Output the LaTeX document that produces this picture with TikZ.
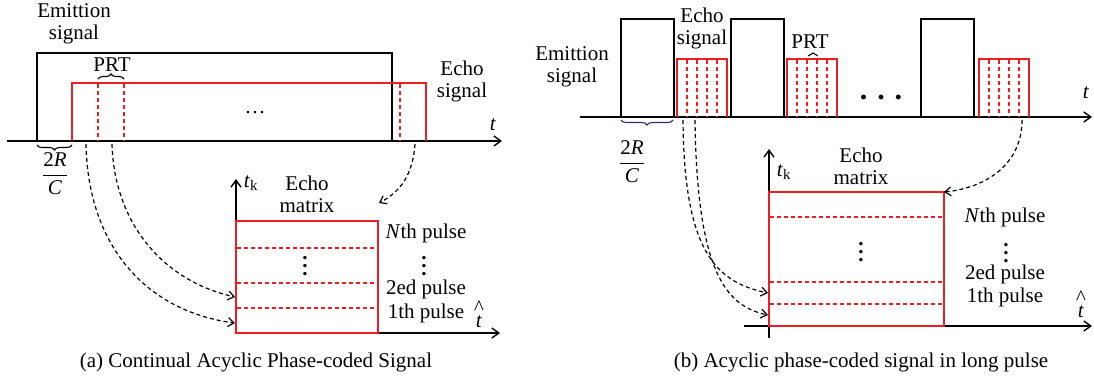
\documentclass[tikz,border=0pt]{standalone}
\usepackage{fontspec}
\setmainfont{Liberation Serif}
\usetikzlibrary{arrows.meta,decorations.pathreplacing}
\definecolor{ered}{RGB}{235,30,35}
\definecolor{bnavy}{RGB}{40,50,110}
\newcommand\myvdots{\vbox{\baselineskip=8pt\lineskiplimit=-10pt\hbox{\textbf{.}}\hbox{\textbf{.}}\hbox{\textbf{.}}}}
\begin{document}
\begin{tikzpicture}[x=1pt,y=-1pt,
  font=\fontsize{21}{22}\selectfont,
  every node/.style={inner sep=0pt,align=center},
  axis/.style={line width=1.4pt,-{Straight Barb[length=7pt,width=10pt,line width=1.4pt]}},
  blk/.style={line width=1.4pt},
  blkthin/.style={line width=1.1pt},
  redbox/.style={draw=ered,line width=2pt},
  redthin/.style={draw=ered,line width=1.4pt},
  reddash/.style={draw=ered,line width=1.5pt,dash pattern=on 4pt off 3pt},
  link/.style={line width=1.2pt,dash pattern=on 4pt off 3pt,-{Straight Barb[length=6pt,width=9pt,line width=1.2pt]}},
  brc/.style={decorate,decoration={brace,amplitude=5pt},line width=1.1pt}]
\path[use as bounding box] (0,0) rectangle (1094,381);

% ================= panel (a) =================
\draw[axis] (7,141) -- (502,141);
\node (ta) at (493,125) {\textit{t}};
\draw[blk] (37,141) -- (37,53) -- (392,53) -- (392,141);
\draw[redbox] (72,141) -- (72,83) -- (426,83) -- (426,141);
\draw[reddash] (98,84) -- (98,141);
\draw[reddash] (124,84) -- (124,141);
\draw[reddash] (400,84) -- (400,141);
\draw[brc] (98,79) -- (124,79);
\node (prta) at (112,65) {PRT};
\node (dotsa) at (255,113) {…};
\node (emita) at (74,24) {Emittion\\signal};
\node (echoa) at (462,81) {Echo\\signal};
\draw[brc] (72,145) -- (37,145);
\node (rca) at (55,174) {$\displaystyle\frac{\mbox{2\textit{R}}}{\mbox{\textit{C}}}$};

% matrix (a)
\draw[axis] (236,333) -- (236,179);
\draw[axis] (236,333) -- (500,333);
\draw[redbox] (236,221) rectangle (378,333);
\draw[reddash] (237,248) -- (377,248);
\draw[reddash] (237,283) -- (377,283);
\draw[reddash] (237,308) -- (377,308);
\node (mda) at (305,266) {\myvdots};
\node (tka) at (251,183) {\textit{t}\textsubscript{k}};
\node (ema) at (307,194) {Echo\\matrix};
\node (nta) at (426,233) {\textit{N}th pulse};
\node (vda) at (424,266) {\myvdots};
\node (p2a) at (426,289) {2ed pulse};
\node (p1a) at (426,313) {1th pulse};
\node (tha) at (479,314) {\textasciicircum\\[-9pt]\textit{t}};

\coordinate (sa1) at (86,144);
\coordinate (sa2) at (112,144);
\coordinate (sa3) at (415,144);
\coordinate (ea1) at (235,323);
\coordinate (ea2) at (235,297);
\coordinate (ea3) at (379,203);
\draw[link] (sa1) .. controls (88,250) and (150,312) .. (ea1);
\draw[link] (sa2) .. controls (114,220) and (160,280) .. (ea2);
\draw[link] (sa3) .. controls (413,175) and (400,192) .. (ea3);

\node (capa) at (256,362) {(a) Continual Acyclic Phase-coded Signal};

% ================= panel (b) =================
\draw[axis] (580,117) -- (1092,117);
\node (tb) at (1086,93) {\textit{t}};
\foreach \x in {621,731,921}{
  \draw[blkthin] (\x,117) -- (\x,19) -- (\x+53,19) -- (\x+53,117);
}
\foreach \x in {677,787,979}{
  \draw[redthin] (\x,117) -- (\x,59) -- (\x+50,59) -- (\x+50,117);
  \foreach \d in {10,20,30,40}{
    \draw[reddash,line width=1.3pt] (\x+\d,60) -- (\x+\d,117);
  }
}
\draw[brc,decoration={amplitude=3pt}] (808,56) -- (818,56);
\node (prtb) at (810,42) {PRT};
\node (dotsb) at (881,97) {\fontsize{30}{30}\selectfont\textbf{.\,\,.\,\,.}};
\node (emitb) at (572,67) {Emittion\\signal};
\node (echob) at (702,28) {Echo\\signal};
\draw[brc,draw=bnavy] (673,120) -- (621,120);
\node (rcb) at (632,162) {$\displaystyle\frac{\mbox{2\textit{R}}}{\mbox{\textit{C}}}$};

% matrix (b)
\draw[axis] (769,338) -- (769,149);
\draw[axis] (744,326) -- (1092,326);
\draw[redbox] (769,192) rectangle (944,326);
\draw[reddash] (770,217) -- (943,217);
\draw[reddash] (770,282) -- (943,282);
\draw[reddash] (770,304) -- (943,304);
\node (mdb) at (861,252) {\myvdots};
\node (tkb) at (784,172) {\textit{t}\textsubscript{k}};
\node (emb) at (861,166) {Echo\\matrix};
\node (ntb) at (1005,217) {\textit{N}th pulse};
\node (vdb) at (1006,253) {\myvdots};
\node (p2b) at (1005,274) {2ed pulse};
\node (p1b) at (1005,297) {1th pulse};
\node (thb) at (1081,304) {\textasciicircum\\[-9pt]\textit{t}};

\coordinate (sb1) at (683,120);
\coordinate (sb2) at (695,120);
\coordinate (sb3) at (1022,120);
\coordinate (eb1) at (768,293);
\coordinate (eb2) at (768,315);
\coordinate (eb3) at (944,192);
\draw[link] (sb1) .. controls (684,250) and (715,282) .. (eb1);
\draw[link] (sb2) .. controls (697,270) and (725,306) .. (eb2);
\draw[link] (sb3) .. controls (1022,165) and (985,188) .. (eb3);

\node (capb) at (861,362) {(b) Acyclic phase-coded signal in long pulse};
\end{tikzpicture}
\end{document}
